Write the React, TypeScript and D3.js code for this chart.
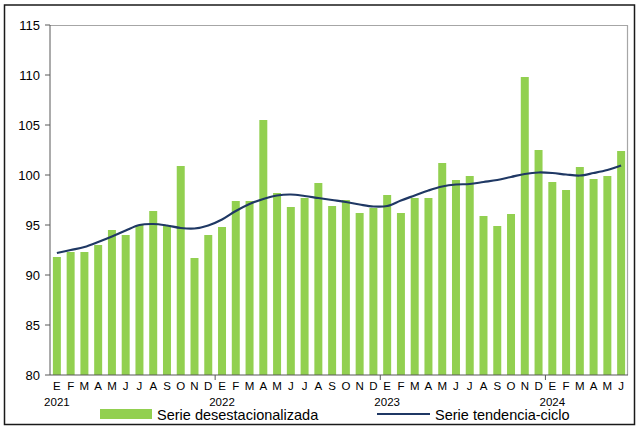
import React from 'react';
import * as d3 from 'd3';

// monthly values, Jan 2021 .. Jun 2024
const months = [
  'E', 'F', 'M', 'A', 'M', 'J', 'J', 'A', 'S', 'O', 'N', 'D',
  'E', 'F', 'M', 'A', 'M', 'J', 'J', 'A', 'S', 'O', 'N', 'D',
  'E', 'F', 'M', 'A', 'M', 'J', 'J', 'A', 'S', 'O', 'N', 'D',
  'E', 'F', 'M', 'A', 'M', 'J',
];
const years = ['2021', '2022', '2023', '2024'];
const seasAdj = [
  91.8, 92.3, 92.3, 93.0, 94.5, 94.0, 95.0, 96.4, 95.0, 100.9, 91.7, 94.0,
  94.8, 97.4, 97.4, 105.5, 98.2, 96.8, 97.7, 99.2, 96.9, 97.5, 96.2, 96.7,
  98.0, 96.2, 97.7, 97.7, 101.2, 99.5, 99.9, 95.9, 94.9, 96.1, 109.8, 102.5,
  99.3, 98.5, 100.8, 99.6, 99.9, 102.4,
];
const trend = [
  92.2, 92.5, 92.8, 93.3, 93.85, 94.45, 95.0, 95.1, 94.95, 94.7, 94.65, 94.95,
  95.55, 96.4, 97.1, 97.6, 97.95, 98.05, 97.9, 97.7, 97.5, 97.3, 97.05, 96.85,
  96.9, 97.45, 97.95, 98.45, 98.85, 99.05, 99.1, 99.3, 99.5, 99.8, 100.1, 100.25,
  100.2, 100.05, 99.95, 100.2, 100.5, 100.95,
];
const yTicks = [80, 85, 90, 95, 100, 105, 110, 115];

const W = 636;
const H = 426;
const margin = { top: 25, right: 8, bottom: 51, left: 50 };
const plotW = W - margin.left - margin.right;
const plotH = H - margin.top - margin.bottom;
const font = '"Liberation Sans", Arial, sans-serif';

export default function App() {
  const idx = d3.range(seasAdj.length);
  const x = d3.scaleBand<number>().domain(idx).range([0, plotW]).paddingInner(0.42).paddingOuter(0.21);
  const step = x.step();
  const y = d3.scaleLinear().domain([80, 115]).range([plotH, 0]);

  const line = d3
    .line<number>()
    .x((d, i) => x(i)! + x.bandwidth() / 2)
    .y(d => y(d))
    .curve(d3.curveCatmullRom.alpha(0.5));

  // x position of the boundary before month i
  const edge = (i: number) => x(i)! - (step - x.bandwidth()) / 2;

  return (
    <svg width={W} height={H} style={{ position: 'absolute', left: 0, top: 0, background: '#fff' }}
      fontFamily={font}>
      <rect x={4.5} y={5} width={630} height={419.5} fill="none" stroke="#1a1a1a" strokeWidth={1.5} />
      <g transform={`translate(${margin.left},${margin.top})`}>
        {/* plot frame: top and right */}
        <path d={`M0,0.5H${plotW - 0.5}V${plotH}`} fill="none" stroke="#a6a6a6" strokeWidth={1.2} />

        {seasAdj.map((v, i) => (
          <rect key={i} x={x(i)} y={y(v)} width={x.bandwidth()} height={plotH - y(v)} fill="#92d050" />
        ))}

        <path d={line(trend) || ''} fill="none" stroke="#1f3864" strokeWidth={2.2} />

        {/* y axis */}
        <line x1={0} x2={0} y1={0} y2={plotH} stroke="#595959" strokeWidth={1} />
        {yTicks.map(t => (
          <g key={t} transform={`translate(0,${y(t)})`}>
            <line x1={-5} x2={0} stroke="#595959" />
            <text x={-10} dy="0.35em" textAnchor="end" fontSize={13} fill="#000">{t}</text>
          </g>
        ))}

        {/* x axis */}
        <line x1={0} x2={plotW} y1={plotH} y2={plotH} stroke="#595959" strokeWidth={1.2} />
        {[12, 24, 36].map(i => (
          <line key={i} x1={edge(i)} x2={edge(i)} y1={plotH} y2={plotH + 5} stroke="#595959" />
        ))}
        {months.map((m, i) => (
          <text key={i} x={x(i)! + x.bandwidth() / 2} y={plotH + 15} textAnchor="middle" fontSize={11.5} fill="#000">{m}</text>
        ))}
        {years.map((yr, k) => (
          <text key={yr} x={x(k * 12)! + x.bandwidth() / 2} y={plotH + 31} textAnchor="middle" fontSize={11.5} fill="#000">{yr}</text>
        ))}
      </g>

      {/* legend */}
      <g fontSize={14.5} fill="#000">
        <rect x={100} y={409} width={52} height={10} fill="#92d050" />
        <text x={157} y={419.5}>Serie desestacionalizada</text>
        <line x1={377} x2={430} y1={414} y2={414} stroke="#1f3864" strokeWidth={2} />
        <text x={435} y={419.5}>Serie tendencia-ciclo</text>
      </g>
    </svg>
  );
}
